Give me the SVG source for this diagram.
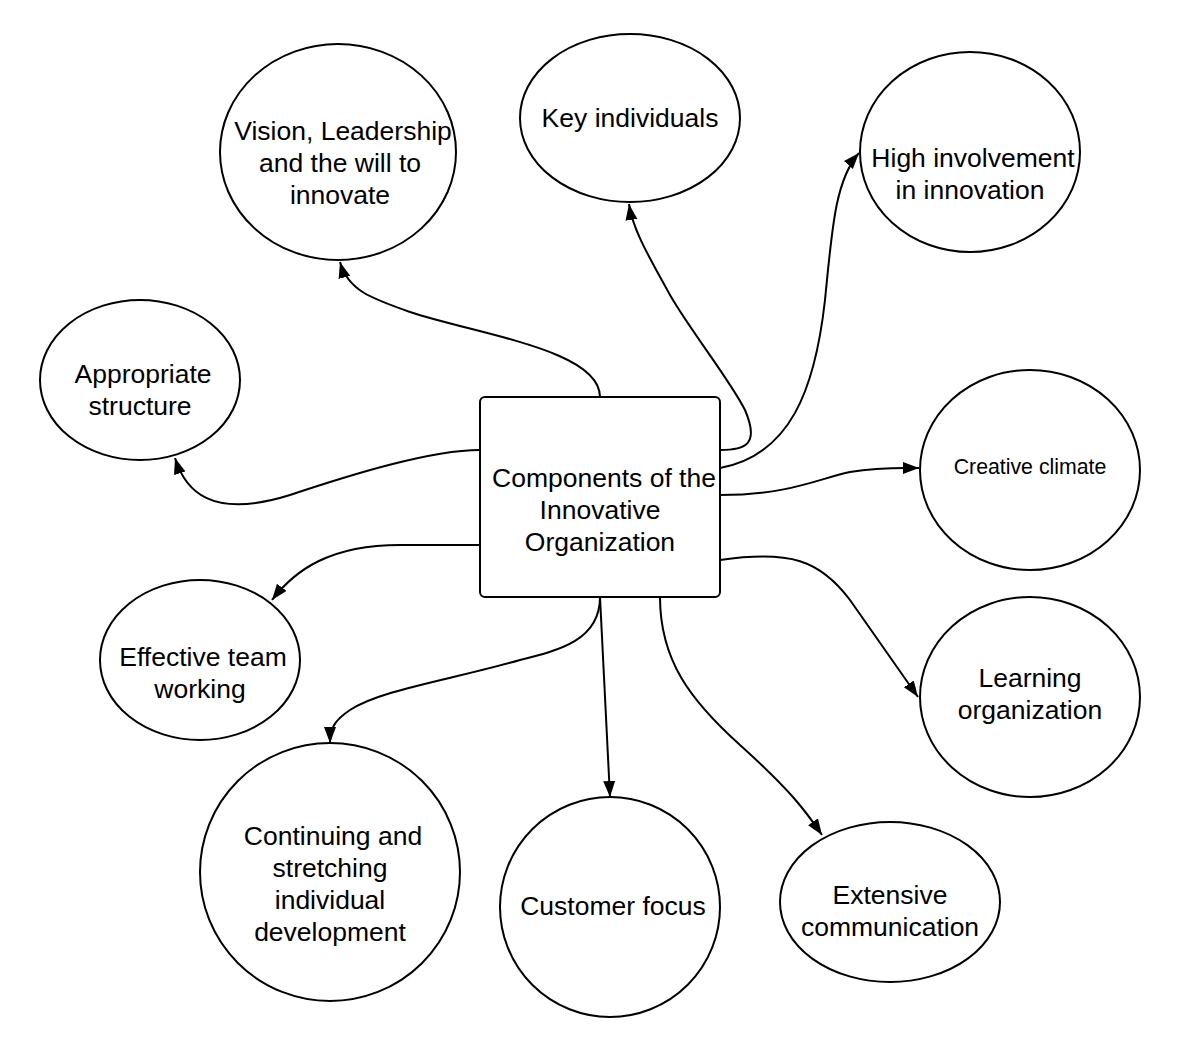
<svg xmlns="http://www.w3.org/2000/svg" width="1180" height="1040" viewBox="0 0 1180 1040">
<style>
.n{fill:#fff;stroke:#000;stroke-width:2}
.t{font-family:"Liberation Sans",Arial,sans-serif;font-size:26.5px;fill:#000;text-anchor:middle}
.s{font-size:21.3px}
.c{fill:none;stroke:#000;stroke-width:2;marker-end:url(#a)}
</style>
<defs>
<marker id="a" markerUnits="userSpaceOnUse" markerWidth="17" markerHeight="13" refX="16" refY="6" orient="auto">
<path d="M0,0 L16,6 L0,12 z" fill="#000"/>
</marker>
</defs>
<rect width="1180" height="1040" fill="#fff"/>
<g id="connectors">
<path class="c" d="M600,397 C600,350 480,335 410,312 C370,298 348,290 340,262"/>
<path class="c" d="M480,450 C430,450 350,475 290,495 C210,520 185,490 175,458"/>
<path class="c" d="M720,450 C745,450 760,445 745,410 C730,380 690,330 670,295 C648,255 633,230 629,204"/>
<path class="c" d="M720,468 C790,455 815,390 825,300 C832,230 835,180 859,153"/>
<path class="c" d="M720,495 C790,495 820,478 850,472 C880,467 900,468 919,468"/>
<path class="c" d="M720,560 C790,550 820,560 850,600 L918,697"/>
<path class="c" d="M660,597 C660,660 690,700 740,745 C790,790 805,810 822,835"/>
<path class="c" d="M600,597 L610,797"/>
<path class="c" d="M600,597 C600,640 560,650 520,660 C450,680 380,690 350,710 C335,720 330,728 330,743"/>
<path class="c" d="M480,545 L400,545 C330,545 295,570 272,600"/>
</g>
<g id="center">
<rect class="n" x="480" y="397" width="240" height="200" rx="5"/>
<text class="t"><tspan x="604" y="487">Components of the</tspan><tspan x="600" y="519">Innovative</tspan><tspan x="600" y="551">Organization</tspan></text>
</g>
<g id="vision">
<ellipse class="n" cx="338" cy="152" rx="118" ry="108"/>
<text class="t"><tspan x="343" y="140">Vision, Leadership</tspan><tspan x="340" y="172">and the will to</tspan><tspan x="340" y="204">innovate</tspan></text>
</g>
<g id="key">
<ellipse class="n" cx="630" cy="118" rx="110" ry="84"/>
<text class="t" x="630" y="127">Key individuals</text>
</g>
<g id="high">
<ellipse class="n" cx="970" cy="152" rx="110" ry="100"/>
<text class="t"><tspan x="973" y="167">High involvement</tspan><tspan x="970" y="199">in innovation</tspan></text>
</g>
<g id="structure">
<ellipse class="n" cx="140" cy="380" rx="100" ry="80"/>
<text class="t"><tspan x="143" y="383">Appropriate</tspan><tspan x="140" y="415">structure</tspan></text>
</g>
<g id="climate">
<ellipse class="n" cx="1030" cy="470" rx="110" ry="100"/>
<text class="t s" x="1030" y="474">Creative climate</text>
</g>
<g id="team">
<ellipse class="n" cx="200" cy="660" rx="100" ry="80"/>
<text class="t"><tspan x="203" y="666">Effective team</tspan><tspan x="200" y="698">working</tspan></text>
</g>
<g id="learning">
<ellipse class="n" cx="1030" cy="697" rx="110" ry="100"/>
<text class="t"><tspan x="1030" y="687">Learning</tspan><tspan x="1030" y="719">organization</tspan></text>
</g>
<g id="continuing">
<ellipse class="n" cx="330" cy="872" rx="130" ry="129"/>
<text class="t"><tspan x="333" y="845">Continuing and</tspan><tspan x="330" y="877">stretching</tspan><tspan x="330" y="909">individual</tspan><tspan x="330" y="941">development</tspan></text>
</g>
<g id="customer">
<ellipse class="n" cx="610" cy="907" rx="110" ry="110"/>
<text class="t" x="613" y="915">Customer focus</text>
</g>
<g id="communication">
<ellipse class="n" cx="890" cy="902" rx="110" ry="80"/>
<text class="t"><tspan x="890" y="904">Extensive</tspan><tspan x="890" y="936">communication</tspan></text>
</g>
</svg>
